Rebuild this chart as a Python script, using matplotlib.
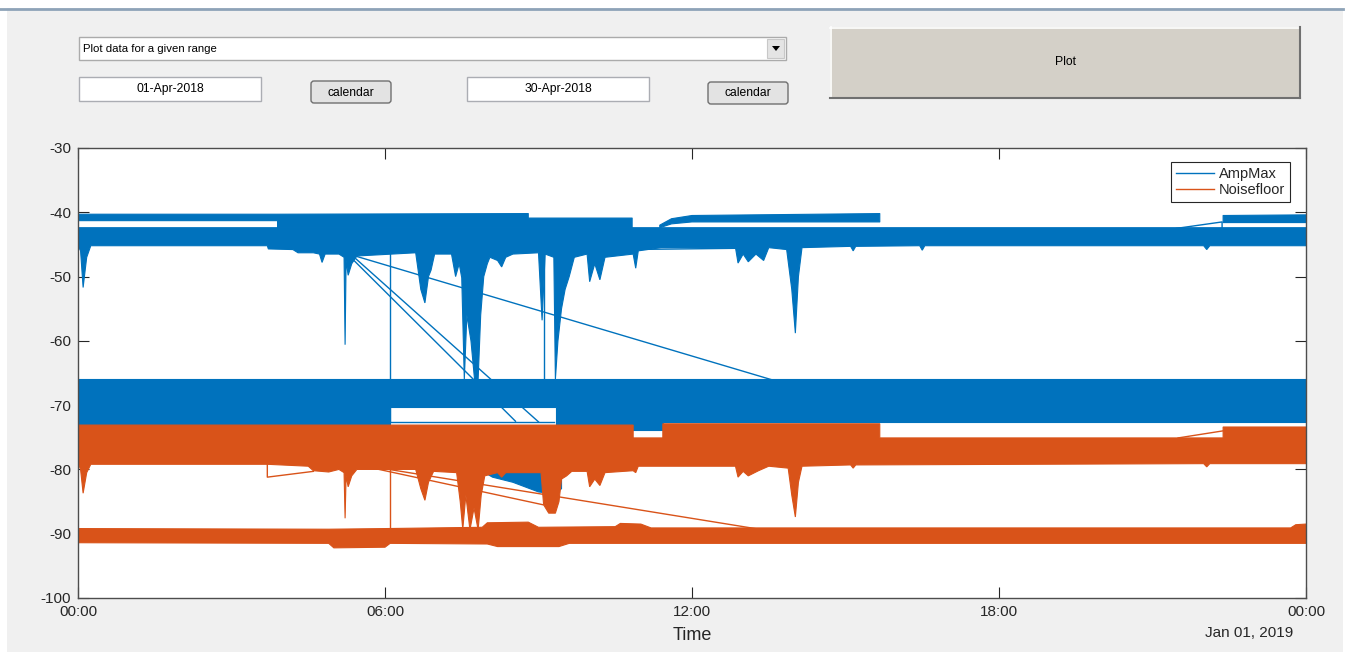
import numpy as np
import matplotlib
matplotlib.use("Agg")
import matplotlib.pyplot as plt
from matplotlib.patches import Rectangle, FancyBboxPatch, Polygon
from matplotlib.lines import Line2D

plt.rcParams["font.family"] = ["Liberation Sans", "DejaVu Sans"]
plt.rcParams["axes.unicode_minus"] = False

W, H = 1352, 652
BLUE = "#0072BD"
ORANGE = "#D95319"
nan = np.nan

# ---- data (hours of day, dBm) ----
# AmpMax: thin upper band (only present in some periods)
a1_h = [0.0, 3.9, 3.9, 8.8, 8.8, 10.83, nan, 11.37, 11.6, 12.0, 15.67, nan, 22.38, 24.0]
a1_hi = [-40.3, -40.3, -40.3, -40.2, -40.9, -40.9, nan, -42.0, -41.0, -40.5, -40.2, nan, -40.5, -40.4]
a1_lo = [-41.3, -41.3, -42.4, -42.4, -42.4, -42.4, nan, -42.4, -41.8, -41.5, -41.5, nan, -41.6, -41.6]

# AmpMax: main band near -44
a2_hi_h = [0.0, 24.0]
a2_hi = [-42.4, -42.4]
a2_lo_h = [0.0, 0.05, 0.1, 0.17, 0.25, 3.7, 3.72, 4.2, 4.3, 4.6, 4.72, 4.77, 4.83, 5.1, 5.2,
           5.22, 5.24, 5.28, 5.35, 5.45, 6.6, 6.7, 6.78, 6.85, 6.9, 6.97, 7.3, 7.38, 7.45, 7.5,
           7.55, 7.6, 7.68, 7.75, 7.82, 7.87, 7.93, 8.0, 8.05, 8.2, 8.28, 8.36, 8.5, 9.0, 9.07,
           9.13, 9.3, 9.33, 9.38, 9.45, 9.52, 9.6, 9.7, 9.95, 10.0, 10.1, 10.2, 10.3, 10.85,
           10.9, 10.95, 11.4, 12.85, 12.9, 13.0, 13.1, 13.25, 13.4, 13.5, 13.85, 13.95, 14.02,
           14.08, 14.15, 15.1, 15.15, 15.2, 16.45, 16.5, 16.55, 22.0, 22.06, 22.12, 24.0]
a2_lo = [-45.2, -46.0, -51.7, -47.0, -45.2, -45.2, -45.7, -45.8, -46.3, -46.3, -46.5, -47.8,
         -46.5, -46.5, -47.0, -60.6, -47.5, -49.8, -48.0, -46.8, -46.3, -52.0, -54.1, -50.0,
         -49.0, -46.5, -46.5, -50.0, -48.0, -50.2, -66.0, -56.0, -60.0, -66.0, -66.0, -56.0,
         -50.0, -48.0, -47.0, -47.5, -48.5, -47.0, -46.5, -46.3, -56.8, -46.5, -47.0, -66.0,
         -60.0, -55.0, -52.0, -50.0, -47.0, -46.5, -50.8, -48.0, -50.5, -47.0, -46.5, -48.7,
         -46.0, -45.5, -45.5, -47.9, -46.5, -47.7, -46.5, -47.5, -45.5, -45.8, -52.0, -58.8,
         -50.0, -45.5, -45.3, -46.0, -45.3, -45.2, -45.9, -45.2, -45.2, -45.8, -45.2, -45.2]

# AmpMax: lower band near -70
b_hi_h = [0.0, 24.0]
b_hi = [-66.0, -66.0]
b_lo_h = [0.0, 6.1, 6.1, 9.35, 9.35, 11.43, 11.43, 24.0]
b_lo = [-73.1, -73.1, -70.3, -70.3, -73.8, -73.8, -72.6, -72.6]

# AmpMax: patch below the noisefloor band around 08:00-09:30
bp_hi_h = [7.95, 9.45]
bp_hi = [-79.0, -79.0]
bp_lo_h = [7.95, 8.1, 8.5, 9.0, 9.3, 9.45]
bp_lo = [-80.5, -81.2, -82.0, -83.5, -83.8, -83.0]

# AmpMax: connecting lines across data gaps
amp_gap1_h, amp_gap1_v = [5.28, 8.55], [-46.6, -72.5]
amp_gap2_h, amp_gap2_v = [5.37, 9.0], [-46.8, -72.6]
amp_gap3_h, amp_gap3_v = [5.25, 13.58], [-46.4, -66.1]
amp_gap4_h, amp_gap4_v = [6.1, 6.1, 9.3], [-46.0, -72.6, -72.6]
amp_gap5_h, amp_gap5_v = [9.1, 9.1], [-46.5, -66.0]
amp_gap6_h, amp_gap6_v = [4.3, 12.85], [-45.8, -45.3]
amp_gap7_h, amp_gap7_v = [5.2, 12.9], [-46.3, -45.6]
amp_gap8_h, amp_gap8_v = [21.47, 22.36, 22.36], [-42.5, -41.5, -42.6]

# Noisefloor: upper band near -76
c_hi_h = [0.0, 10.85, 10.85, 11.43, 11.43, 15.67, 15.67, 22.38, 22.38, 24.0]
c_hi = [-73.1, -73.1, -75.1, -75.1, -72.9, -72.9, -75.1, -75.1, -73.4, -73.4]
c_lo_h = [0.0, 0.05, 0.1, 0.17, 0.25, 3.7, 4.5, 4.6, 4.9, 5.1, 5.2, 5.22, 5.24, 5.28, 5.35,
          5.45, 6.6, 6.7, 6.78, 6.85, 6.95, 7.4, 7.47, 7.52, 7.58, 7.66, 7.74, 7.82, 7.88, 7.95,
          8.2, 8.28, 8.36, 9.05, 9.1, 9.2, 9.33, 9.4, 9.45, 9.55, 9.65, 9.95, 10.0, 10.1, 10.2,
          10.3, 10.85, 10.9, 10.95, 12.85, 12.9, 13.0, 13.1, 13.3, 13.5, 13.88, 13.95, 14.02,
          14.08, 14.15, 15.1, 15.15, 15.2, 22.0, 22.06, 22.12, 24.0]
c_lo = [-79.0, -80.0, -83.7, -80.5, -79.2, -79.2, -79.5, -80.2, -80.4, -80.0, -80.5, -87.6,
        -81.0, -82.7, -81.0, -80.0, -80.0, -83.0, -84.8, -82.0, -80.3, -80.5, -85.0, -89.3,
        -84.0, -89.4, -86.0, -89.4, -84.0, -81.0, -80.5, -81.2, -80.5, -80.5, -85.5, -86.8,
        -86.8, -85.0, -81.5, -81.0, -80.3, -80.3, -82.7, -81.5, -82.5, -80.5, -80.2, -80.5,
        -79.5, -79.5, -81.2, -80.3, -81.0, -80.2, -79.5, -79.8, -84.0, -87.4, -82.0, -79.5,
        -79.3, -79.8, -79.3, -79.1, -79.6, -79.1, -79.1]

# Noisefloor: lower band near -90
d_hi_h = [0.0, 4.9, 6.0, 7.9, 8.0, 8.8, 9.0, 10.5, 10.6, 11.0, 11.2, 23.7, 23.8, 24.0]
d_hi = [-89.2, -89.3, -89.2, -89.0, -88.3, -88.2, -89.0, -88.9, -88.4, -88.5, -89.1, -89.1, -88.6, -88.5]
d_lo_h = [0.0, 4.9, 5.0, 6.0, 6.1, 8.0, 8.2, 9.4, 9.6, 24.0]
d_lo = [-91.4, -91.5, -92.2, -92.1, -91.5, -91.6, -92.0, -92.0, -91.5, -91.5]

# Noisefloor: connecting lines
noise_gap1_h, noise_gap1_v = [3.7, 3.7, 4.6], [-79.2, -81.2, -80.3]
noise_gap2_h, noise_gap2_v = [5.3, 13.39], [-79.0, -89.4]
noise_gap3_h, noise_gap3_v = [5.3, 9.09], [-79.0, -85.5]
noise_gap4_h, noise_gap4_v = [6.1, 6.1], [-79.5, -89.5]
noise_gap5_h, noise_gap5_v = [21.5, 22.38], [-75.1, -74.0]

x_ticks = [0, 6, 12, 18, 24]
x_labels = ["00:00", "06:00", "12:00", "18:00", "00:00"]
y_ticks = [-100, -90, -80, -70, -60, -50, -40, -30]


def band(ax, hi_h, hi, lo_h, lo, color):
    xs = np.concatenate([hi_h, lo_h[::-1]])
    ys = np.concatenate([hi, lo[::-1]])
    ax.fill(xs, ys, facecolor=color, edgecolor=color, lw=0.8, zorder=2)


fig = plt.figure(figsize=(W / 100, H / 100), dpi=100, facecolor="#F0F0F0")

# ---- GUI background in pixel coordinates ----
ui = fig.add_axes([0, 0, 1, 1])
ui.set_xlim(0, W)
ui.set_ylim(H, 0)
ui.axis("off")
ui.add_patch(Rectangle((0, 0), W, 8, facecolor="white", edgecolor="none"))
ui.add_patch(Rectangle((0, 0), 7, H, facecolor="white", edgecolor="none"))
ui.add_patch(Rectangle((1343, 0), W - 1343, H, facecolor="white", edgecolor="none"))
ui.plot([0, 1343], [9, 9], color="#8ea3b8", lw=2)

gui_font = 8.2
# dropdown
ui.add_patch(Rectangle((79, 37), 707, 23, facecolor="white", edgecolor="#ababab", lw=1))
ui.add_patch(Rectangle((767, 39), 17, 19, facecolor="#e4e4e4", edgecolor="#c8c8c8", lw=0.8))
ui.add_patch(Polygon([(772, 46), (780, 46), (776, 51)], closed=True, facecolor="black", edgecolor="none"))
ui.text(83, 48.5, "Plot data for a given range", fontsize=gui_font, va="center", ha="left", color="black")

# date boxes and calendar buttons
for (x0, txt) in [(79, "01-Apr-2018"), (467, "30-Apr-2018")]:
    ui.add_patch(Rectangle((x0, 77), 182, 24, facecolor="white", edgecolor="#abadb3", lw=1))
    ui.text(x0 + 91, 89, txt, fontsize=gui_font + 0.5, va="center", ha="center", color="black")
for x0, y0 in [(311, 81), (708, 82)]:
    ui.add_patch(FancyBboxPatch((x0, y0), 80, 22, boxstyle="round,pad=0,rounding_size=3",
                                facecolor="#e3e3e3", edgecolor="#707070", lw=1))
    ui.text(x0 + 40, y0 + 11.5, "calendar", fontsize=gui_font + 0.5, va="center", ha="center", color="black")

# plot button
ui.add_patch(Rectangle((830, 27), 470, 71, facecolor="#d4d0c8", edgecolor="none"))
ui.plot([830, 1300], [27.5, 27.5], color="white", lw=1.2)
ui.plot([830.5, 830.5], [27, 98], color="white", lw=1.2)
ui.plot([830, 1300], [97.5, 97.5], color="#707070", lw=1.5)
ui.plot([1299.5, 1299.5], [27, 98], color="#707070", lw=1.5)
ui.text(1065, 62, "Plot", fontsize=gui_font + 0.5, va="center", ha="center", color="black")

ui.text(1293, 633, "Jan 01, 2019", fontsize=11, va="center", ha="right", color="#262626")

# ---- the chart ----
ax = fig.add_axes([78 / W, 1 - 598 / H, 1228 / W, 450 / H])
ax.set_facecolor("white")

# AmpMax
ax.fill_between(a1_h, a1_hi, a1_lo, facecolor=BLUE, edgecolor=BLUE, lw=0.8, zorder=2)
band(ax, a2_hi_h, a2_hi, a2_lo_h, a2_lo, BLUE)
band(ax, b_hi_h, b_hi, b_lo_h, b_lo, BLUE)
band(ax, bp_hi_h, bp_hi, bp_lo_h, bp_lo, BLUE)
for gh, gv in [(amp_gap1_h, amp_gap1_v), (amp_gap2_h, amp_gap2_v), (amp_gap3_h, amp_gap3_v),
               (amp_gap4_h, amp_gap4_v), (amp_gap5_h, amp_gap5_v), (amp_gap6_h, amp_gap6_v),
               (amp_gap7_h, amp_gap7_v), (amp_gap8_h, amp_gap8_v)]:
    ax.plot(gh, gv, color=BLUE, lw=1.0, zorder=2)

# Noisefloor (drawn on top, as in the original)
band(ax, c_hi_h, c_hi, c_lo_h, c_lo, ORANGE)
band(ax, d_hi_h, d_hi, d_lo_h, d_lo, ORANGE)
for gh, gv in [(noise_gap1_h, noise_gap1_v), (noise_gap2_h, noise_gap2_v),
               (noise_gap3_h, noise_gap3_v), (noise_gap4_h, noise_gap4_v),
               (noise_gap5_h, noise_gap5_v)]:
    ax.plot(gh, gv, color=ORANGE, lw=1.0, zorder=3)

ax.set_xlim(0, 24)
ax.set_ylim(-100, -30)
ax.set_xticks(x_ticks)
ax.set_xticklabels(x_labels)
ax.set_yticks(y_ticks)
ax.tick_params(direction="in", length=8, width=0.8, top=True, right=True,
               color="#262626", labelcolor="#262626", labelsize=11, pad=5)
for sp in ax.spines.values():
    sp.set_color("#4d4d4d")
    sp.set_linewidth(1.0)
ax.set_xlabel("Time", fontsize=13, color="#262626", labelpad=6)

handles = [Line2D([], [], color=BLUE, lw=1, label="AmpMax"),
           Line2D([], [], color=ORANGE, lw=1, label="Noisefloor")]
leg = ax.legend(handles=handles, loc="upper right", bbox_to_anchor=(0.987, 0.969),
                fontsize=10.5, frameon=True, fancybox=False, framealpha=1,
                borderpad=0.35, handlelength=2.6, handletextpad=0.35,
                labelspacing=0.15, borderaxespad=0)
leg.get_frame().set_edgecolor("#262626")
leg.get_frame().set_linewidth(0.8)
for t in leg.get_texts():
    t.set_color("#262626")

fig.savefig("out.png", dpi=100, facecolor=fig.get_facecolor())
